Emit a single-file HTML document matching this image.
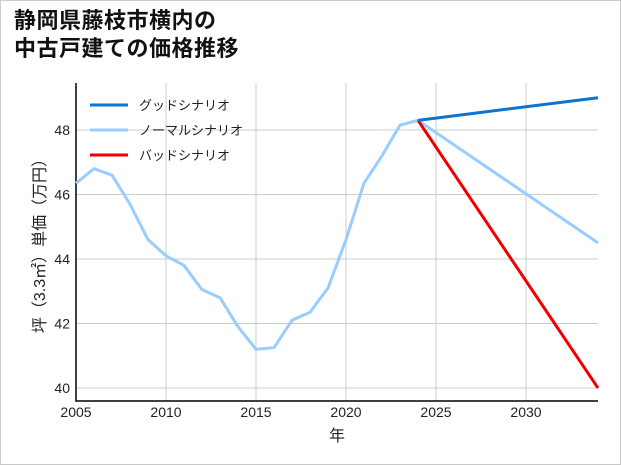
<!DOCTYPE html>
<html><head><meta charset="utf-8"><style>
body{margin:0;background:#fff;}
#wrap{position:relative;width:619px;height:463px;border:1px solid #ccc;background:#fff;font-family:"Liberation Sans","Noto Sans CJK JP",sans-serif;}
#title{position:absolute;left:13px;top:6px;font-size:22px;font-weight:bold;line-height:28px;color:#111;letter-spacing:0.5px;}
svg{position:absolute;left:0;top:0;}
</style></head><body>
<div id="wrap">
<div id="title">静岡県藤枝市横内の<br>中古戸建ての価格推移</div>
<svg id="chart" width="621" height="465"></svg>
</div>
<script>
const years=[2005,2006,2007,2008,2009,2010,2011,2012,2013,2014,2015,2016,2017,2018,2019,2020,2021,2022,2023,2024];
const normalHist=[46.35,46.8,46.6,45.7,44.6,44.1,43.8,43.05,42.8,41.9,41.2,41.25,42.1,42.35,43.1,44.6,46.35,47.2,48.15,48.3];
const scenYears=[2024,2034];
const goodVals=[48.3,49.0];
const normalVals=[48.3,44.5];
const badVals=[48.3,40.0];
const xTicks=[2005,2010,2015,2020,2025,2030];
const yTicks=[40,42,44,46,48];
const legendLabels=["グッドシナリオ","ノーマルシナリオ","バッドシナリオ"];
const colors=["#0a74d0","#99ccff","#ee0000"];

const L=75,R=597,T=82,B=400;
const x=v=>L+(v-2005)*(R-L)/(2034-2005);
const y=v=>387-(v-40)*(387-129)/8;
const svg=document.getElementById('chart');
const NS='http://www.w3.org/2000/svg';
function mk(t,a){const e=document.createElementNS(NS,t);for(const k in a)e.setAttribute(k,a[k]);svg.appendChild(e);return e;}
xTicks.forEach(v=>{
 const g=mk('line',{x1:x(v),x2:x(v),y1:T,y2:B,stroke:'#ccc','stroke-width':1});
 
 
 const t=mk('text',{x:x(v),y:B+16,'text-anchor':'middle','font-size':14,fill:'#222'});t.textContent=v;
 
 
});
yTicks.forEach(v=>{
 const g=mk('line',{x1:L,x2:R,y1:y(v),y2:y(v),stroke:'#ccc','stroke-width':1});
 
 
 const t=mk('text',{x:L-6,y:y(v)+5,'text-anchor':'end','font-size':14,fill:'#222'});t.textContent=v;
 
 
});
const ax=mk('path',{d:`M${L},${T}V${B}H${R}`,fill:'none',stroke:'#000','stroke-width':1.5});


function line(xs,vs,c,name){
 const p=mk('polyline',{points:xs.map((v,i)=>x(v)+','+y(vs[i])).join(' '),fill:'none',stroke:c,'stroke-width':3,'stroke-linejoin':'round'});
 
 
}
line(years,normalHist,colors[1],'historical-line');
line(scenYears,normalVals,colors[1],'normal-scenario-line');
line(scenYears,badVals,colors[2],'bad-scenario-line');
line(scenYears,goodVals,colors[0],'good-scenario-line');
legendLabels.forEach((s,i)=>{
 const yy=104+i*25;
 const l=mk('line',{x1:89,x2:127,y1:yy,y2:yy,stroke:colors[i],'stroke-width':3});
 
 
 const t=mk('text',{x:138,y:yy+5,'font-size':13,fill:'#222'});t.textContent=s;
 
 
});
const xt=mk('text',{x:336,y:440,'text-anchor':'middle','font-size':16,fill:'#222'});xt.textContent='年';


const yt=mk('text',{x:0,y:0,'text-anchor':'middle','font-size':16,fill:'#222',transform:'translate(44,241) rotate(-90)'});yt.textContent='坪（3.3㎡）単価（万円）';


</script>
</body></html>
